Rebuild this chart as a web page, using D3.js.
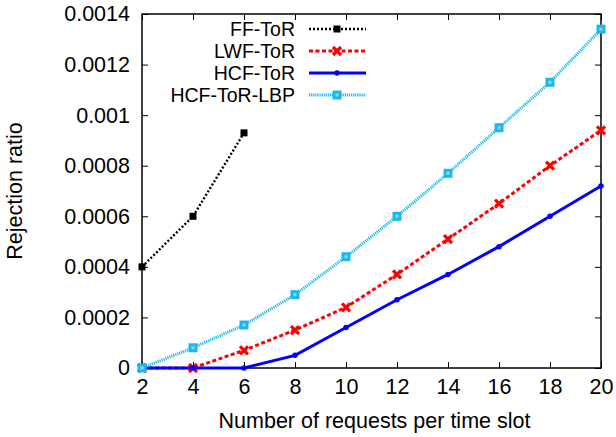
<!DOCTYPE html>
<html>
<head>
<meta charset="utf-8">
<script src="https://cdn.jsdelivr.net/npm/d3@7"></script>
<style>
  html, body { margin: 0; padding: 0; background: #fff; }
  svg { display: block; font-family: "Liberation Sans", Arial, Helvetica, sans-serif; }
</style>
</head>
<body>
<svg id="chart" width="616" height="437"></svg>
<script>
// Requests per time slot
const requests = [2, 4, 6, 8, 10, 12, 14, 16, 18, 20];

// Rejection ratio per scheme
const ffTor     = [0.0004, 0.0006, 0.00093];
const lwfTor    = [0, 0, 0.00007, 0.00015, 0.00024, 0.00037, 0.00051, 0.00065, 0.0008, 0.00094];
const hcfTor    = [0, 0, 0, 0.00005, 0.00016, 0.00027, 0.00037, 0.00048, 0.0006, 0.00072];
const hcfTorLbp = [0, 0.00008, 0.00017, 0.00029, 0.00044, 0.0006, 0.00077, 0.00095, 0.00113, 0.00134];

const seriesNames = ["FF-ToR", "LWF-ToR", "HCF-ToR", "HCF-ToR-LBP"];
const yTicks = [0, 0.0002, 0.0004, 0.0006, 0.0008, 0.001, 0.0012, 0.0014];
const yTickLabels = ["0", "0.0002", "0.0004", "0.0006", "0.0008", "0.001", "0.0012", "0.0014"];

const series = [
  { name: seriesNames[0], values: ffTor, color: "#000000", width: 2.4, dash: "2,2", marker: "square", size: 7 },
  { name: seriesNames[1], values: lwfTor, color: "#ff0000", width: 3, dash: "4,2.5", marker: "cross", size: 8 },
  { name: seriesNames[2], values: hcfTor, color: "#0000ff", width: 3, dash: null, marker: "circle", size: 5.5 },
  { name: seriesNames[3], values: hcfTorLbp, color: "#1ab8f0", width: 3, dash: "1.2,0.9", marker: "box", size: 9 }
];

const margin = { left: 142, right: 15, top: 14, bottom: 69 };
const W = 616, H = 437;
const svg = d3.select("#chart");

const x = d3.scaleLinear().domain([2, 20]).range([margin.left, W - margin.right]);
const y = d3.scaleLinear().domain([0, 0.0014]).range([H - margin.bottom, margin.top]);

const fontSize = 21.5;
const legendFontSize = 19.5;

// Axes: inward ticks on all four sides, labels on left/bottom
const tickLen = 6;
const xAxisB = d3.axisBottom(x).tickValues(requests).tickSize(-tickLen).tickPadding(11).tickFormat(d3.format("d"));
const yAxisL = d3.axisLeft(y).tickValues(yTicks).tickSize(-tickLen).tickPadding(12)
  .tickFormat((d, i) => yTickLabels[i]);
const xAxisT = d3.axisTop(x).tickValues(requests).tickSize(-tickLen).tickFormat("");
const yAxisR = d3.axisRight(y).tickValues(yTicks).tickSize(-tickLen).tickFormat("");

function styleAxis(g) {
  g.select(".domain").remove();
  g.selectAll(".tick line").attr("stroke", "#000").attr("stroke-width", 1);
  g.selectAll("text").attr("font-size", fontSize).attr("fill", "#000")
    .attr("font-family", "'Liberation Sans', Arial, sans-serif");
}

svg.append("g").attr("transform", `translate(0,${y(0)})`).call(xAxisB).call(styleAxis);
svg.append("g").attr("transform", `translate(${x(2)},0)`).call(yAxisL).call(styleAxis);
svg.append("g").attr("transform", `translate(0,${y(0.0014)})`).call(xAxisT).call(styleAxis);
svg.append("g").attr("transform", `translate(${x(20)},0)`).call(yAxisR).call(styleAxis);

// Frame
svg.append("rect")
  .attr("x", x(2)).attr("y", y(0.0014))
  .attr("width", x(20) - x(2)).attr("height", y(0) - y(0.0014))
  .attr("fill", "none").attr("stroke", "#000").attr("stroke-width", 1.5);

// Axis titles
svg.append("text")
  .attr("x", (x(2) + x(20)) / 2 + 3).attr("y", 428)
  .attr("text-anchor", "middle").attr("font-size", fontSize)
  .text("Number of requests per time slot");

svg.append("text")
  .attr("transform", `translate(22,${(y(0) + y(0.0014)) / 2}) rotate(-90)`)
  .attr("text-anchor", "middle").attr("font-size", fontSize)
  .text("Rejection ratio");

function drawMarker(g, s, cx, cy) {
  const r = s.size / 2;
  if (s.marker === "square") {
    g.append("rect").attr("x", cx - r).attr("y", cy - r).attr("width", s.size).attr("height", s.size)
      .attr("fill", s.color);
  } else if (s.marker === "cross") {
    g.append("path")
      .attr("d", `M${cx - r},${cy - r}L${cx + r},${cy + r}M${cx - r},${cy + r}L${cx + r},${cy - r}`)
      .attr("stroke", s.color).attr("stroke-width", 3.2).attr("fill", "none");
  } else if (s.marker === "circle") {
    g.append("circle").attr("cx", cx).attr("cy", cy).attr("r", r).attr("fill", s.color);
  } else if (s.marker === "box") {
    g.append("rect").attr("x", cx - r).attr("y", cy - r).attr("width", s.size).attr("height", s.size)
      .attr("fill", s.color);
    g.append("rect").attr("x", cx - 1.5).attr("y", cy - 1.5).attr("width", 3).attr("height", 3)
      .attr("fill", "#8fd8f7");
  }
}

const line = d3.line().x(d => x(d[0])).y(d => y(d[1]));

series.forEach(s => {
  const pts = s.values.map((v, i) => [requests[i], v]);
  const g = svg.append("g");
  g.append("path")
    .attr("d", line(pts))
    .attr("fill", "none")
    .attr("stroke", s.color)
    .attr("stroke-width", s.width)
    .attr("stroke-dasharray", s.dash);
  pts.forEach(p => drawMarker(g, s, x(p[0]), y(p[1])));
});

// Legend
const legendRows = [29, 51, 73, 95];
series.forEach((s, i) => {
  const g = svg.append("g");
  const ly = legendRows[i];
  g.append("text")
    .attr("x", 295).attr("y", ly).attr("dy", "0.35em")
    .attr("text-anchor", "end").attr("font-size", legendFontSize)
    .text(s.name);
  g.append("line")
    .attr("x1", 309).attr("x2", 366).attr("y1", ly).attr("y2", ly)
    .attr("stroke", s.color).attr("stroke-width", s.width)
    .attr("stroke-dasharray", s.dash);
  drawMarker(g, s, 337, ly);
});
</script>
</body>
</html>
